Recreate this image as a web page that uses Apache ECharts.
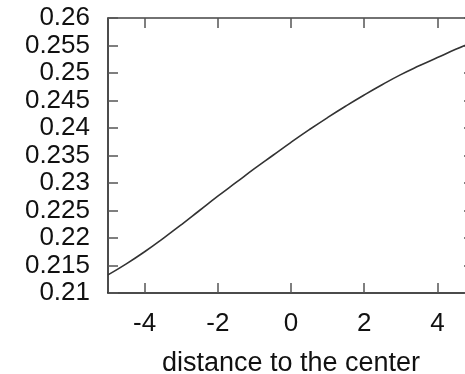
<!DOCTYPE html>
<html>
<head>
<meta charset="utf-8">
<script src="https://cdn.jsdelivr.net/npm/echarts@6/dist/echarts.min.js"></script>
<style>
  html, body { margin: 0; padding: 0; background: #fff; }
  #chart { width: 465px; height: 374px; }
</style>
</head>
<body>
<div id="chart"></div>
<script>
const xValues = [-5, -4.5, -4, -3.5, -3, -2.5, -2, -1.5, -1, -0.5, 0, 0.5, 1, 1.5, 2, 2.5, 3, 3.5, 4, 4.5, 5];
const yValues = [0.2133, 0.2153, 0.2175, 0.2199, 0.2224, 0.2250, 0.2276, 0.2301, 0.2326, 0.2350, 0.2374, 0.2397, 0.2419, 0.2440, 0.2460, 0.2479, 0.2497, 0.2513, 0.2528, 0.2543, 0.2557];
const xTicks = [-4, -2, 0, 2, 4];

const chart = echarts.init(document.getElementById('chart'));
const font = 'Liberation Sans, Arial, sans-serif';
const tickStyle = { color: '#555', width: 1.5 };

let option = {
  animation: false,
  grid: { left: 108, top: 18, right: -9, bottom: 81, containLabel: false, outerBoundsMode: 'none' },
  xAxis: [
    {
      type: 'value',
      min: -5,
      max: 5,
      position: 'bottom',
      name: 'distance to the center',
      nameLocation: 'middle',
      nameGap: 57,
      nameTextStyle: { fontFamily: font, fontSize: 27, color: '#111' },
      axisLine: { onZero: false, lineStyle: { color: '#111', width: 1.5 } },
      axisTick: { inside: true, length: 10, customValues: xTicks, lineStyle: tickStyle },
      axisLabel: { customValues: xTicks, margin: 18, fontFamily: font, fontSize: 26, color: '#111' },
      splitLine: { show: false }
    },
    {
      type: 'value',
      min: -5,
      max: 5,
      position: 'top',
      axisLine: { onZero: false, lineStyle: { color: '#444', width: 1.5 } },
      axisTick: { inside: true, length: 10, customValues: xTicks, lineStyle: tickStyle },
      axisLabel: { show: false },
      splitLine: { show: false }
    }
  ],
  yAxis: [
    {
      type: 'value',
      min: 0.21,
      max: 0.26,
      interval: 0.005,
      position: 'left',
      axisLine: { show: true, onZero: false, lineStyle: { color: '#111', width: 1.5 } },
      axisTick: { show: true, inside: true, length: 10, lineStyle: tickStyle },
      axisLabel: {
        margin: 18,
        fontFamily: font,
        fontSize: 26,
        color: '#111',
        formatter: (v) => String(parseFloat(v.toFixed(3)))
      },
      splitLine: { show: false }
    },
    {
      type: 'value',
      min: 0.21,
      max: 0.26,
      interval: 0.005,
      position: 'right',
      axisLine: { show: true, onZero: false, lineStyle: { color: '#111', width: 1.5 } },
      axisTick: { show: true, inside: true, length: 10, lineStyle: tickStyle },
      axisLabel: { show: false },
      splitLine: { show: false }
    }
  ],
  series: [
    {
      type: 'line',
      smooth: true,
      symbol: 'none',
      data: xValues.map((x, i) => [x, yValues[i]]),
      lineStyle: { color: '#333', width: 1.6 }
    }
  ]
};

chart.setOption(option);
</script>
</body>
</html>
